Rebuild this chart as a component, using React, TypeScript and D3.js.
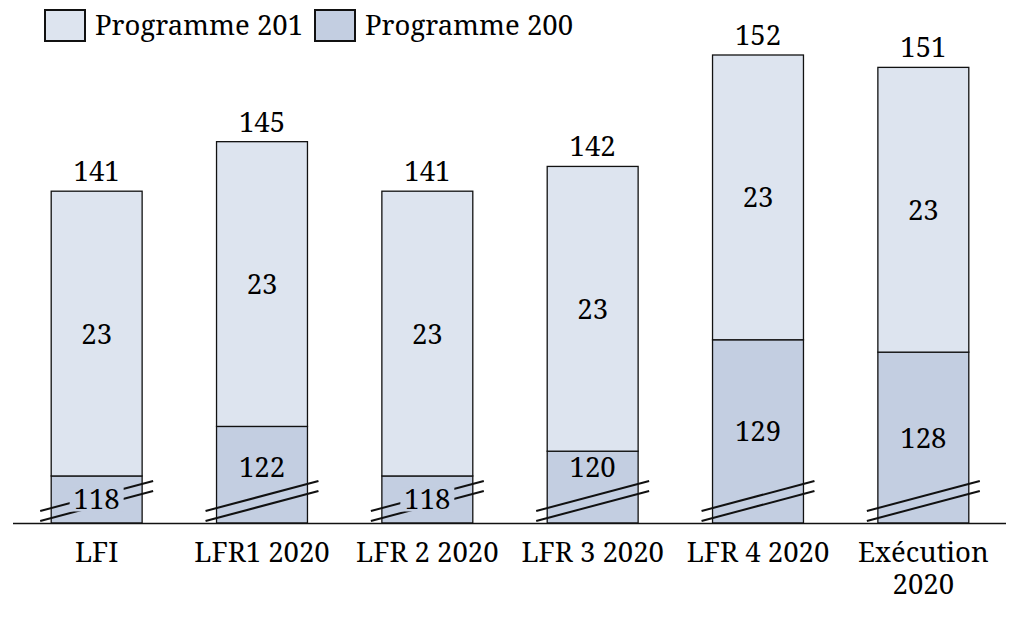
import React from "react";
import * as d3 from "d3";

const categories = ["LFI", "LFR1 2020", "LFR 2 2020", "LFR 3 2020", "LFR 4 2020", "Exécution 2020"];
const tickLabels = [["LFI"], ["LFR1 2020"], ["LFR 2 2020"], ["LFR 3 2020"], ["LFR 4 2020"], ["Exécution", "2020"]];
const programme200 = [118, 122, 118, 120, 129, 128];
const programme201 = [23, 23, 23, 23, 23, 23];
const totals = [141, 145, 141, 142, 152, 151];
const seriesNames = ["Programme 201", "Programme 200"];

const W = 1019;
const H = 622;
const FONT = "Noto Serif, Liberation Serif, serif";
const C201 = "#dde4ef";
const C200 = "#c3cee1";
const STROKE = "#111";

export default function App() {
  const x = d3.scaleBand<string>().domain(categories).range([14, 1006]).paddingInner(0.45).paddingOuter(0.225);
  const y = d3.scaleLinear().domain([114.2, 152]).range([523, 55]);
  const bw = x.bandwidth();
  const fs = 27.5;
  const ts: React.CSSProperties = { fontFamily: FONT, fontSize: fs };

  return (
    <svg width={W} height={H} style={{ position: "absolute", left: 0, top: 0, background: "#fff" }}>
      {/* legend */}
      <rect x={45} y={10} width={40} height={31} fill={C201} stroke={STROKE} strokeWidth={2} />
      <text x={95} y={35} style={ts} fill="#000">{seriesNames[0]}</text>
      <rect x={315} y={10} width={40} height={31} fill={C200} stroke={STROKE} strokeWidth={2} />
      <text x={365} y={35} style={ts} fill="#000">{seriesNames[1]}</text>

      {categories.map((c, i) => {
        const x0 = x(c)!;
        const cx = x0 + bw / 2;
        const yBase = y(y.domain()[0]);
        const y200 = y(programme200[i]);
        const yTot = y(programme200[i] + programme201[i]);
        const lab200 = String(programme200[i]);
        const tw = lab200.length * 16 + 6;
        const segH = yBase - y200;
        const yl200 = segH > 60 ? Math.min((y200 + yBase) / 2, 467) : (y200 + yBase) / 2;
        return (
          <g key={c}>
            <rect x={x0} y={y200} width={bw} height={yBase - y200} fill={C200} stroke={STROKE} strokeWidth={1.3} />
            <rect x={x0} y={yTot} width={bw} height={y200 - yTot} fill={C201} stroke={STROKE} strokeWidth={1.3} />
            {/* axis break marks */}
            <line x1={x0 - 11} y1={511} x2={x0 + bw + 11} y2={481} stroke={STROKE} strokeWidth={2} />
            <line x1={x0 - 11} y1={521} x2={x0 + bw + 11} y2={491} stroke={STROKE} strokeWidth={2} />
            {segH <= 60 && <rect x={cx - tw / 2} y={yl200 - 12} width={tw} height={24} fill={C200} />}
            <text x={cx} y={yl200 + 10} textAnchor="middle" style={ts} fill="#000">{lab200}</text>
            <text x={cx} y={(yTot + y200) / 2 + 10} textAnchor="middle" style={ts} fill="#000">{programme201[i]}</text>
            <text x={cx} y={yTot - 10} textAnchor="middle" style={ts} fill="#000">{totals[i]}</text>
            {tickLabels[i].map((t, k) => (
              <text key={k} x={cx} y={562 + k * 32} textAnchor="middle" style={ts} fill="#000">{t}</text>
            ))}
          </g>
        );
      })}
      <line x1={13} x2={1006} y1={523.5} y2={523.5} stroke={STROKE} strokeWidth={1.6} />
    </svg>
  );
}
